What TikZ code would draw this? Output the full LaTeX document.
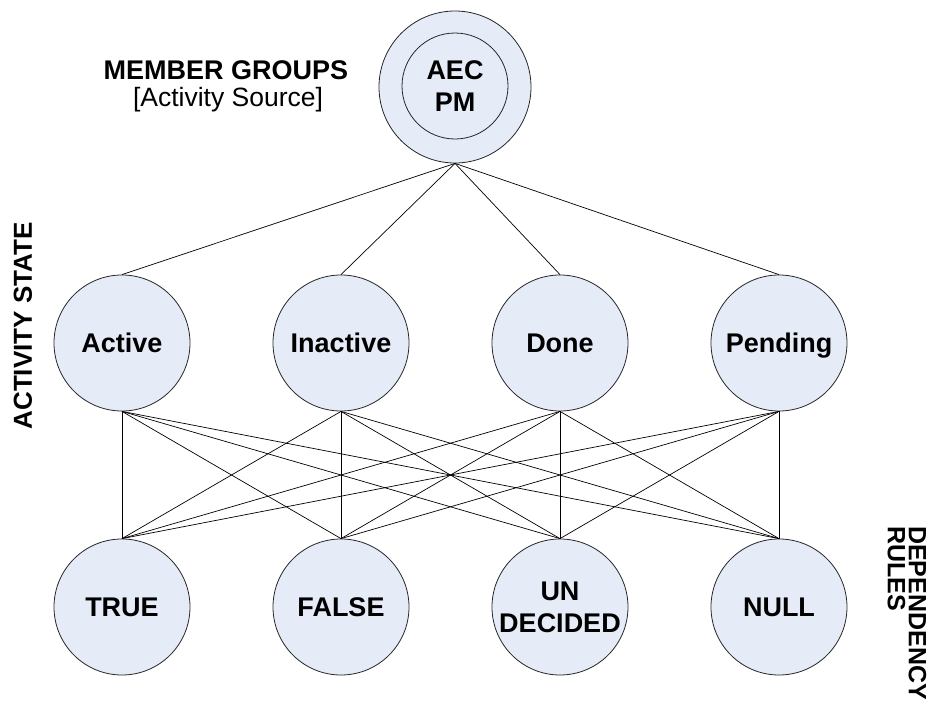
\documentclass[tikz,border=0pt]{standalone}
\usepackage{fontspec}
\setmainfont{Liberation Sans}
\usepackage{tikz}
\definecolor{nodefill}{RGB}{230,236,247}

\begin{document}
\begin{tikzpicture}[x=1pt, y=-1pt]
  \pgfmathsetmacro{\rad}{68}   % state circle radius
  \pgfmathsetmacro{\gap}{219}  % column spacing

  \tikzset{
    state node/.style={circle, draw=black!85, line width=0.8pt, fill=nodefill,
      minimum size=2*\rad, inner sep=0pt, align=center,
      font=\fontsize{27}{32}\selectfont\bfseries},
    hub outer/.style={state node, minimum size=152},
    hub inner/.style={state node, minimum size=106},
    link/.style={black, line width=0.7pt},
    side text/.style={font=\fontsize{25}{21}\selectfont\bfseries, align=left},
  }

  \useasboundingbox (0,0) rectangle (938,707);

  % member group (source)
  \node[hub outer] (src) at (455,87) {};
  \node[hub inner] (srcin) at (455,86) {AEC\\PM};

  % activity states
  \foreach \name/\txt [count=\i] in {act/Active, ina/Inactive, don/Done, pen/Pending}
    \node[state node, text depth=0pt] (\name) at ({122+\gap*(\i-1)},343) {\txt};

  % dependency rules
  \foreach \name/\txt [count=\i] in {true/TRUE, false/FALSE, und/{UN\\DECIDED}, null/NULL}
    \node[state node] (\name) at ({122+\gap*(\i-1)},607) {\txt};

  % connectors
  \foreach \m in {act,ina,don,pen}
    \draw[link] (src.south) -- (\m.north);
  \foreach \m in {act,ina,don,pen}
    \foreach \b in {true,false,und,null}
      \draw[link] (\m.south) -- (\b.north);

  % side labels
  \node[font=\fontsize{27}{30}\selectfont\bfseries] (grp) at (226,70) {MEMBER GROUPS};
  \node[font=\fontsize{26.5}{30}\selectfont] (grpsrc) at (228,100) {[Activity Source]};
  \node[side text, font=\fontsize{26}{30}\selectfont\bfseries, rotate=90] (statelbl) at (23,326) {ACTIVITY STATE};
  \node[side text, rotate=-90] (rulelbl) at (907,613) {DEPENDENCY\\RULES};
\end{tikzpicture}
\end{document}
